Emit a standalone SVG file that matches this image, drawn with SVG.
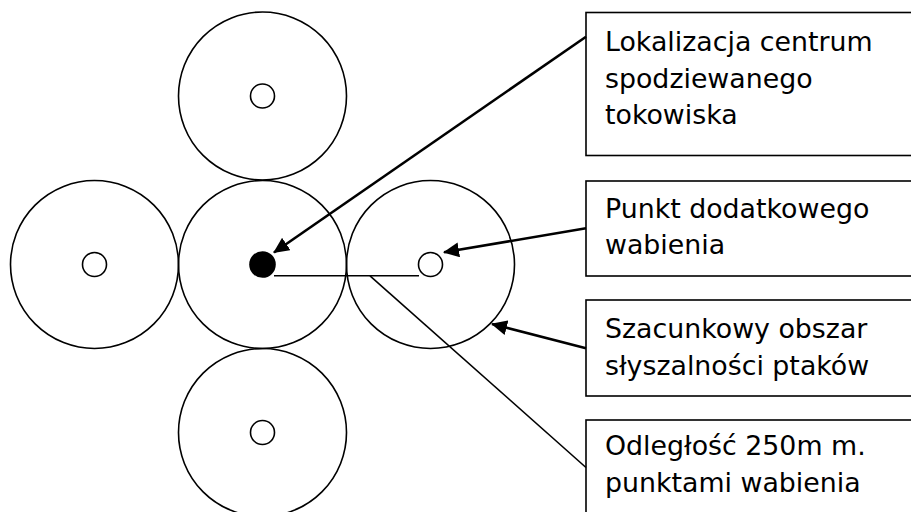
<svg xmlns="http://www.w3.org/2000/svg" width="911" height="512" viewBox="0 0 911 512">
<style>
.ring{fill:none;stroke:#000;stroke-width:1.6}
.pt{fill:#fff;stroke:#000;stroke-width:1.6}
.box{fill:#fff;stroke:#000;stroke-width:1.6}
.lbl{font-family:"DejaVu Sans",Verdana,sans-serif;font-size:26.8px;fill:#000}
.arr{stroke:#000;stroke-width:2.6;fill:none;marker-end:url(#ah)}
.ln{stroke:#000;stroke-width:1.6;fill:none}
</style>
<defs>
<marker id="ah" markerUnits="userSpaceOnUse" viewBox="0 0 16 15" refX="15" refY="7.5" markerWidth="16" markerHeight="15" orient="auto">
<path d="M0,0 L16,7.5 L0,15 z" fill="#000"/>
</marker>
</defs>
<rect width="911" height="512" fill="#fff"/>
<g id="circle-top"><circle class="ring" cx="262.5" cy="96" r="84"/><circle class="pt" cx="262.5" cy="96" r="12"/></g>
<g id="circle-left"><circle class="ring" cx="94.5" cy="264.5" r="84"/><circle class="pt" cx="94.5" cy="264.5" r="12"/></g>
<g id="circle-center"><circle class="ring" cx="262.5" cy="264.5" r="84"/><circle cx="262.5" cy="264.5" r="13.3" fill="#000"/></g>
<g id="circle-right"><circle class="ring" cx="430.5" cy="264.5" r="84"/><circle class="pt" cx="430.5" cy="264.5" r="12"/></g>
<g id="circle-bottom"><circle class="ring" cx="262.5" cy="432.5" r="84"/><circle class="pt" cx="262.5" cy="432.5" r="12"/></g>
<g id="box-1"><rect class="box" x="586" y="12.5" width="340" height="143"/>
<text class="lbl" x="605" y="51">Lokalizacja centrum</text>
<text class="lbl" x="605" y="87.5">spodziewanego</text>
<text class="lbl" x="605" y="124">tokowiska</text></g>
<g id="box-2"><rect class="box" x="586" y="181" width="340" height="95"/>
<text class="lbl" x="605" y="218">Punkt dodatkowego</text>
<text class="lbl" x="605" y="254">wabienia</text></g>
<g id="box-3"><rect class="box" x="586" y="300" width="340" height="96"/>
<text class="lbl" x="605" y="338">Szacunkowy obszar</text>
<text class="lbl" x="605" y="375">słyszalności ptaków</text></g>
<g id="box-4"><rect class="box" x="586" y="420" width="340" height="120"/>
<text class="lbl" x="605" y="455">Odległość 250m m.</text>
<text class="lbl" x="605" y="491.5">punktami wabienia</text></g>
<g id="connectors">
<line class="arr" x1="586" y1="36.7" x2="274" y2="252.5"/>
<line class="arr" x1="586" y1="228.3" x2="444" y2="252.3"/>
<line class="arr" x1="586" y1="348.3" x2="492" y2="324"/>
<line class="ln" x1="274" y1="275.8" x2="419" y2="275.8"/>
<line class="ln" x1="370" y1="275.8" x2="586" y2="467.5"/>
</g>
</svg>
